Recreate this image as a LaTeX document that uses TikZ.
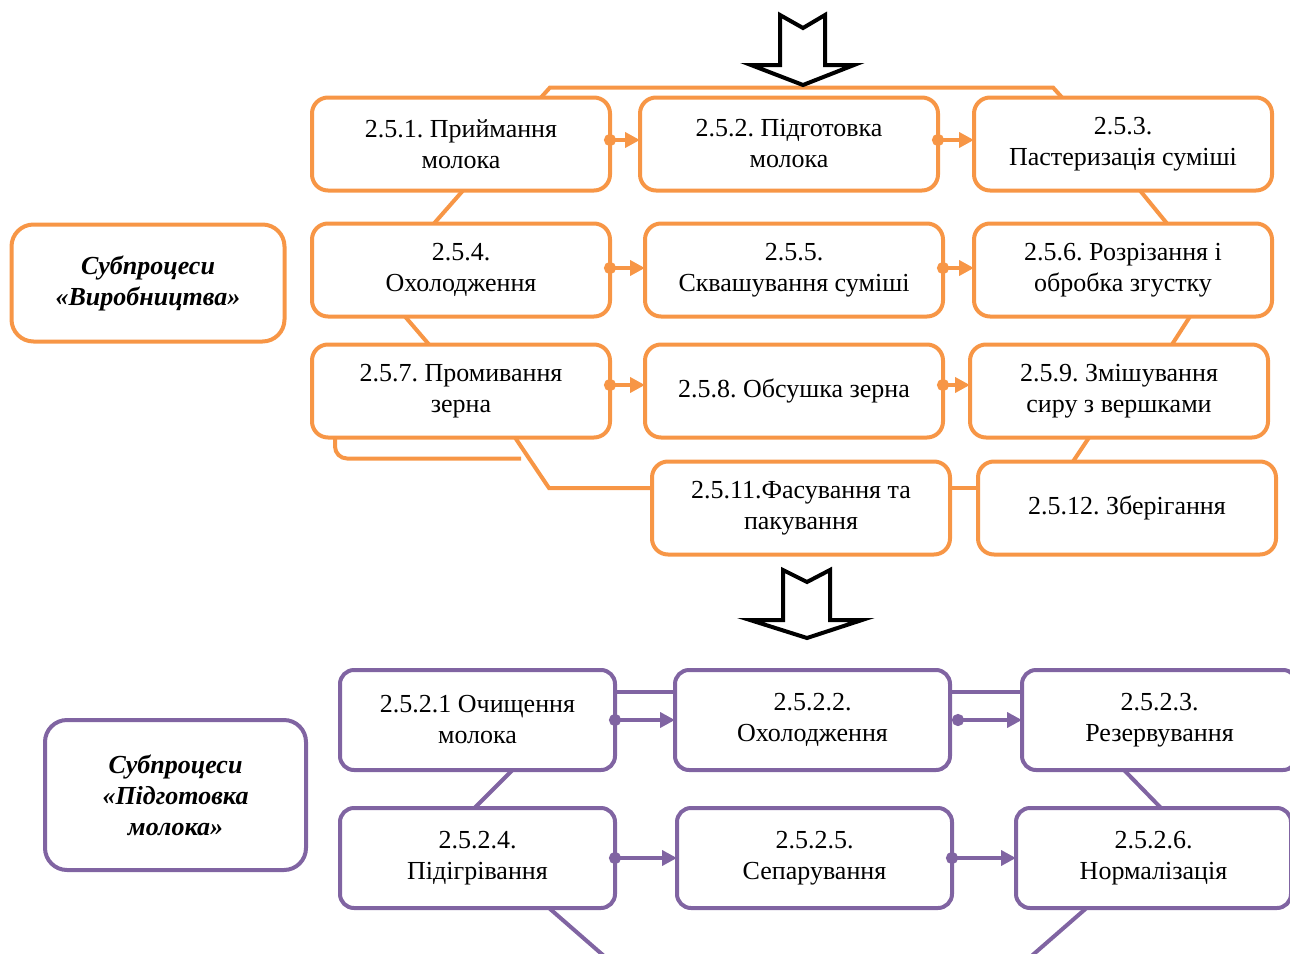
\documentclass[tikz,border=0pt]{standalone}
\usepackage{fontspec}
\setmainfont{Liberation Serif}
\usetikzlibrary{arrows.meta, positioning}
\definecolor{prodorange}{HTML}{F79646}
\definecolor{prepviolet}{HTML}{8064A2}

\begin{document}
\frenchspacing
\begin{tikzpicture}[
    x=1pt, y=1pt,
    prodbox/.style={rectangle, rounded corners=8pt, draw=prodorange, line width=2pt, fill=white,
                    minimum width=149pt, minimum height=46.5pt, inner sep=2pt, outer sep=0pt,
                    align=center, font=\fontsize{13}{15.5}\selectfont},
    prepbox/.style={rectangle, rounded corners=7pt, draw=prepviolet, line width=2pt, fill=white,
                    minimum width=137.5pt, minimum height=50pt, inner sep=2pt, outer sep=0pt,
                    align=center, font=\fontsize{13}{15.5}\selectfont},
    titlebox/.style={rectangle, rounded corners=11pt, line width=2pt, fill=white, outer sep=0pt,
                     align=center, font=\fontsize{13}{15.5}\selectfont\bfseries\itshape},
    prodline/.style={draw=prodorange, line width=2pt},
    prepline/.style={draw=prepviolet, line width=2pt},
    prodflow/.style={prodline, {Circle[length=6pt]}-{Triangle[length=7.5pt, width=7.5pt]}},
    prepflow/.style={prepline, {Circle[length=6pt]}-{Triangle[length=7.5pt, width=7.5pt]}},
    bigarrow/.style={draw=black, line width=2pt, fill=white}
]
\useasboundingbox (0,0) rectangle (645,-476.5);

% subprocesses of production
\node[prodbox] (n1) at (230.5,-72) {2.5.1. Приймання\\молока};
\node[prodbox, right=15pt of n1]   (n2)  {2.5.2. Підготовка\\молока};
\node[prodbox, right=18pt of n2]   (n3)  {2.5.3.\\Пастеризація суміші};
\node[prodbox, below=16.5pt of n1] (n4)  {2.5.4.\\Охолодження};
\node[prodbox, right=17.5pt of n4] (n5)  {2.5.5.\\Сквашування суміші};
\node[prodbox, right=15.5pt of n5] (n6)  {2.5.6. Розрізання і\\обробка згустку};
\node[prodbox, below=14pt of n4]   (n7)  {2.5.7. Промивання\\зерна};
\node[prodbox, right=17.5pt of n7] (n8)  {2.5.8. Обсушка зерна};
\node[prodbox, right=13.5pt of n8] (n9)  {2.5.9. Змішування\\сиру з вершками};
\node[prodbox, below=12pt of n8, xshift=3.5pt] (n11) {2.5.11.Фасування та\\пакування};
\node[prodbox, right=14pt of n11]  (n12) {2.5.12. Зберігання};
\node[titlebox, draw=prodorange, minimum width=136.5pt, minimum height=58.5pt] (prodtitle) at (74,-141.5)
    {Субпроцеси\\«Виробництва»};

\draw[prodline] ([xshift=40pt]n1.north) -- ++(4.5pt,5pt) -- ([xshift=-35pt, yshift=5pt]n3.north) -- ([xshift=-30.5pt]n3.north);
\draw[prodline] ([xshift=1pt]n1.south)   -- ([xshift=-13.5pt]n4.north);
\draw[prodline] ([xshift=-28pt]n4.south) -- ([xshift=-16pt]n7.north);
\draw[prodline] ([xshift=8.5pt]n3.south) -- ([xshift=22pt]n6.north);
\draw[prodline] ([xshift=33.5pt]n6.south) -- ([xshift=26.5pt]n9.north);
\draw[prodline] ([xshift=-15pt]n9.south) -- ([xshift=-27pt]n12.north);
\draw[prodline, rounded corners=6pt] ([xshift=-63pt]n7.south) -- ++(0,-10.5pt) -- ++(93pt,0);
\coordinate (n7out) at ([xshift=27pt]n7.south);
\coordinate (n11in) at ([yshift=10pt]n11.west);
\draw[prodline] (n7out) -- ++(17pt,-25.25pt) -- (n11in);
\draw[prodline] (n11in -| n11.east) -- (n11in -| n12.west);

\draw[prodflow] ([xshift=-3pt, yshift=2pt]n1.east) -- ([yshift=2pt]n2.west);
\draw[prodflow] ([xshift=-3pt, yshift=2pt]n2.east) -- ([yshift=2pt]n3.west);
\draw[prodflow] ([xshift=-3pt, yshift=1pt]n4.east) -- ([yshift=1pt]n5.west);
\draw[prodflow] ([xshift=-3pt, yshift=1pt]n5.east) -- ([yshift=1pt]n6.west);
\draw[prodflow] ([xshift=-3pt, yshift=3pt]n7.east) -- ([yshift=3pt]n8.west);
\draw[prodflow] ([xshift=-3pt, yshift=3pt]n8.east) -- ([yshift=3pt]n9.west);

% hollow arrows
\draw[bigarrow, shift={(401.5,0)}] (-11.5,-7.5) -- (0,-14) -- (11,-7.5) -- (11,-32.5) -- (25.5,-32.5)
    -- (0,-42.5) -- (-26,-32.5) -- (-11.5,-32.5) -- cycle;
\draw[bigarrow, shift={(403.5,0)}] (-12,-285) -- (0,-291) -- (11.5,-285) -- (11.5,-310) -- (27.5,-310)
    -- (0,-319) -- (-28.5,-310) -- (-12,-310) -- cycle;

% subprocesses of milk preparation
\node[prepbox] (p1) at (238.75,-360) {2.5.2.1 Очищення\\молока};
\node[prepbox, right=30pt of p1] (p2) {2.5.2.2.\\Охолодження};
\node[prepbox, right=36pt of p2] (p3) {2.5.2.3.\\Резервування};
\node[prepbox, below=19pt of p1] (p4) {2.5.2.4.\\Підігрівання};
\node[prepbox, right=31pt of p4] (p5) {2.5.2.5.\\Сепарування};
\node[prepbox, right=32pt of p5] (p6) {2.5.2.6.\\Нормалізація};
\node[titlebox, draw=prepviolet, minimum width=130.5pt, minimum height=75pt] (preptitle) at (87.75,-397.5)
    {Субпроцеси\\«Підготовка\\молока»};

\draw[prepline] ([yshift=14pt]p1.east) -- ([yshift=14pt]p2.west);
\draw[prepline] ([yshift=14pt]p2.east) -- ([yshift=14pt]p3.west);
\draw[prepflow] ([xshift=-3pt]p1.east) -- (p2.west);
\draw[prepflow] ([xshift=1pt]p2.east)  -- (p3.west);
\draw[prepflow] ([xshift=-3pt]p4.east) -- (p5.west);
\draw[prepflow] ([xshift=-3pt]p5.east) -- (p6.west);
\draw[prepline] ([xshift=17.5pt]p1.south)  -- ([xshift=-1.5pt]p4.north);
\draw[prepline] ([xshift=-17.75pt]p3.south) -- ([xshift=3.75pt]p6.north);
\draw[prepline] ([xshift=35.75pt]p4.south) -- ++(47pt,-41pt) -- ([xshift=-80.5pt, yshift=-41pt]p6.south) -- ([xshift=-33.5pt]p6.south);
\end{tikzpicture}
\end{document}
